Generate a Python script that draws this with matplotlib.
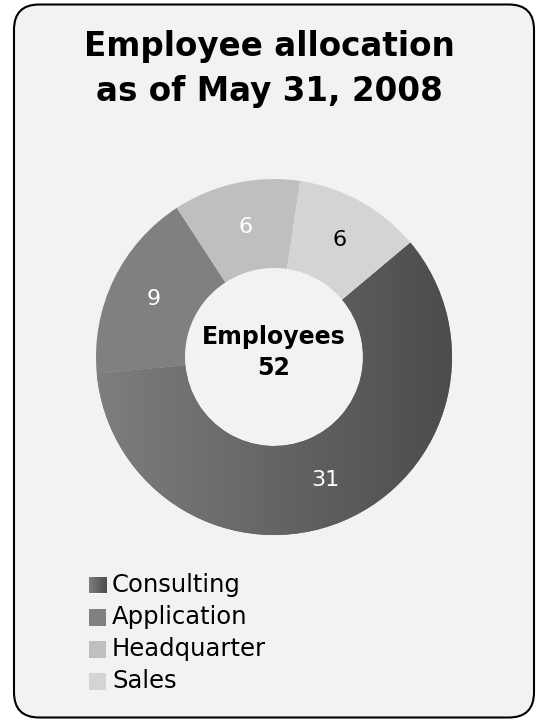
import matplotlib
matplotlib.use("Agg")
import matplotlib.pyplot as plt
import numpy as np
from matplotlib.colors import LinearSegmentedColormap
from matplotlib.patches import FancyBboxPatch

categories = ['Consulting', 'Application', 'Headquarter', 'Sales']
employees = [31, 9, 6, 6]
colors = ['#666666', '#808080', '#bfbfbf', '#d4d4d4']
label_colors = ['white', 'white', 'white', 'black']
title_lines = ['Employee allocation', 'as of May 31, 2008']

W, H = 536, 719
fig = plt.figure(figsize=(W / 100, H / 100), dpi=100)
fig.patch.set_facecolor('white')

# rounded panel behind everything
panel = FancyBboxPatch((14 / W, 1.5 / H), 520 / W, 713 / H,
                       boxstyle="round,pad=0,rounding_size=0.047",
                       transform=fig.transFigure, facecolor='#f2f2f2',
                       edgecolor='black', linewidth=1.5,
                       mutation_aspect=W / H, zorder=-10)
fig.patches.append(panel)

for yb, line in zip([56, 101], title_lines):
    fig.text(0.503, 1 - yb / H, line, ha='center', va='baseline',
             fontsize=23.5, fontweight='bold')

# donut
cx, cy, r = 274, 357, 178
ax = fig.add_axes([(cx - r) / W, (H - cy - r) / H, 2 * r / W, 2 * r / H])
ax.set_facecolor('none')
total = sum(employees)
wedges, texts, autotexts = ax.pie(
    employees, colors=colors, startangle=40, counterclock=False,
    radius=1, wedgeprops=dict(width=0.5, edgecolor='none'),
    autopct=lambda p: f'{round(p * total / 100)}', pctdistance=0.75,
    textprops=dict(fontsize=16))
for t, c in zip(autotexts, label_colors):
    t.set_color(c)
ax.set_xlim(-1, 1)
ax.set_ylim(-1, 1)
ax.set_aspect('auto')
ax.axis('off')

# horizontal shading on the largest slice
shade = LinearSegmentedColormap.from_list('shade', ['#7e7e7e', '#4c4c4c'])
grad = np.linspace(0, 1, 256).reshape(1, -1)
img = ax.imshow(grad, cmap=shade, extent=(-1, 1, -1, 1), aspect='auto', zorder=1.5)
img.set_clip_path(wedges[0])
for t in autotexts:
    t.set_zorder(3)

ax.text(0, 0.11, 'Employees', ha='center', va='center', fontsize=17, fontweight='bold')
ax.text(0, -0.06, f'{total}', ha='center', va='center', fontsize=17, fontweight='bold')

# legend
for i, (name, col) in enumerate(zip(categories, colors)):
    yc = 585 + i * 32
    lax = fig.add_axes([89 / W, (H - yc - 8.5) / H, 17 / W, 17 / H])
    if i == 0:
        lax.imshow(grad, cmap=shade, aspect='auto')
    else:
        lax.set_facecolor(col)
    lax.set_xticks([])
    lax.set_yticks([])
    for s in lax.spines.values():
        s.set_visible(False)
    fig.text(112 / W, 1 - yc / H, name, ha='left', va='center', fontsize=17.5)

fig.savefig('out.png', dpi=100)
